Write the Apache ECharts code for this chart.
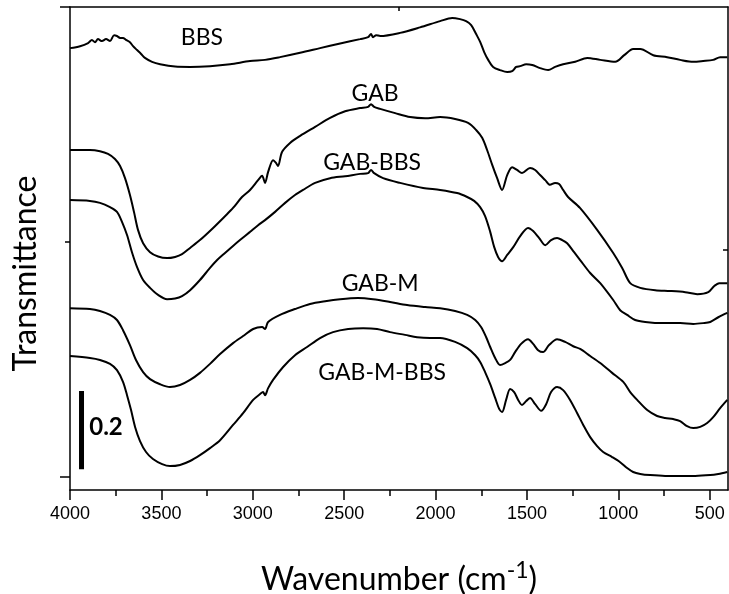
<!DOCTYPE html>
<html><head><meta charset="utf-8">
<script src="https://cdn.jsdelivr.net/npm/echarts@6/dist/echarts.min.js"></script>
<style>html,body{margin:0;padding:0;background:#fff}#c{width:729px;height:594px}</style>
</head><body><div id="c"></div>
<script>
// ---- data (wavenumber in cm^-1, transmittance in offset a.u.) ----
const bbsWn = [4000,3945,3901,3880,3863,3847,3825,3803,3781,3759,3743,3726,3710,3694,3672,3655,3633,3611,3590,3551,3507,3425,3343,3234,3124,3015,2933,2851,2741,2632,2522,2413,2369,2353,2342,2325,2303,2194,2085,1975,1909,1866,1833,1805,1778,1756,1734,1712,1685,1647,1608,1581,1559,1537,1504,1471,1428,1384,1346,1302,1236,1170,1099,1017,968,919,880,809,733,662,590,536,481,443,404];
const bbsT  = [1.095,1.100,1.108,1.116,1.110,1.118,1.113,1.118,1.113,1.128,1.126,1.121,1.121,1.116,1.110,1.100,1.090,1.080,1.070,1.060,1.054,1.048,1.047,1.049,1.054,1.062,1.065,1.072,1.083,1.095,1.107,1.118,1.123,1.131,1.123,1.128,1.126,1.134,1.148,1.164,1.172,1.169,1.164,1.154,1.131,1.111,1.085,1.065,1.047,1.039,1.034,1.036,1.047,1.049,1.054,1.052,1.044,1.039,1.047,1.054,1.060,1.070,1.065,1.060,1.077,1.093,1.093,1.077,1.072,1.065,1.060,1.062,1.065,1.072,1.072];

const gabWn = [4000,3891,3836,3792,3754,3726,3699,3672,3650,3628,3600,3562,3518,3469,3425,3387,3343,3289,3217,3152,3108,3059,3015,2971,2949,2933,2916,2889,2873,2862,2840,2796,2741,2659,2577,2495,2413,2369,2353,2336,2303,2221,2139,2057,1975,1893,1822,1778,1745,1718,1690,1663,1636,1608,1581,1554,1527,1483,1455,1428,1400,1374,1346,1324,1302,1275,1210,1116,1028,979,935,880,798,716,634,568,508,475,448,404];
const gabT  = [0.835,0.835,0.832,0.825,0.812,0.794,0.763,0.720,0.677,0.631,0.597,0.574,0.563,0.559,0.562,0.569,0.585,0.605,0.636,0.666,0.687,0.715,0.733,0.758,0.769,0.751,0.779,0.809,0.802,0.794,0.830,0.853,0.871,0.894,0.917,0.934,0.942,0.945,0.952,0.945,0.940,0.929,0.919,0.916,0.919,0.914,0.904,0.886,0.866,0.835,0.797,0.763,0.733,0.771,0.791,0.784,0.776,0.789,0.784,0.771,0.758,0.746,0.751,0.748,0.733,0.715,0.687,0.631,0.572,0.534,0.495,0.483,0.477,0.475,0.472,0.467,0.472,0.488,0.495,0.495];

const gabBbsWn = [4000,3891,3836,3781,3743,3715,3688,3661,3633,3600,3562,3518,3469,3425,3387,3343,3289,3234,3195,3152,3108,3070,3015,2971,2933,2878,2823,2769,2725,2659,2577,2495,2413,2369,2353,2336,2287,2194,2068,1975,1882,1827,1789,1756,1729,1701,1679,1658,1636,1608,1575,1537,1494,1466,1433,1400,1368,1335,1307,1280,1242,1209,1154,1099,1028,990,952,908,853,755,662,590,536,497,453,404];
const gabBbsT  = [0.707,0.705,0.700,0.689,0.677,0.651,0.618,0.574,0.536,0.503,0.483,0.465,0.454,0.456,0.462,0.477,0.503,0.534,0.554,0.572,0.590,0.605,0.626,0.643,0.656,0.677,0.700,0.720,0.733,0.751,0.763,0.768,0.774,0.776,0.784,0.776,0.763,0.751,0.738,0.733,0.725,0.715,0.705,0.689,0.666,0.626,0.587,0.562,0.551,0.567,0.587,0.615,0.636,0.628,0.610,0.592,0.605,0.610,0.605,0.597,0.574,0.554,0.521,0.495,0.452,0.426,0.414,0.401,0.396,0.393,0.393,0.391,0.393,0.396,0.408,0.419];

const gabMWn = [4000,3891,3836,3781,3743,3710,3672,3639,3600,3562,3507,3453,3398,3343,3289,3234,3179,3108,3053,2998,2949,2933,2916,2851,2769,2687,2604,2522,2424,2342,2249,2156,2057,1975,1893,1827,1783,1751,1723,1701,1674,1647,1619,1592,1565,1532,1494,1466,1439,1412,1379,1335,1291,1247,1209,1154,1099,1034,973,935,897,842,788,744,700,662,624,590,552,514,481,443,404];
const gabMT  = [0.431,0.429,0.424,0.414,0.401,0.375,0.337,0.299,0.268,0.250,0.237,0.230,0.235,0.248,0.266,0.289,0.314,0.342,0.360,0.378,0.383,0.378,0.396,0.414,0.429,0.442,0.449,0.454,0.457,0.454,0.447,0.439,0.434,0.431,0.424,0.414,0.401,0.383,0.357,0.332,0.304,0.286,0.291,0.299,0.319,0.340,0.352,0.340,0.324,0.319,0.337,0.352,0.345,0.334,0.327,0.309,0.291,0.266,0.243,0.217,0.197,0.171,0.156,0.151,0.148,0.143,0.130,0.125,0.128,0.138,0.153,0.176,0.197];

const gabMBbsWn = [4000,3891,3836,3781,3743,3710,3688,3666,3644,3617,3584,3546,3496,3453,3398,3343,3289,3234,3179,3108,3053,2998,2960,2944,2933,2916,2889,2834,2769,2703,2632,2561,2478,2396,2320,2249,2167,2101,2030,1975,1893,1827,1783,1756,1729,1701,1674,1652,1636,1614,1592,1570,1548,1527,1504,1483,1455,1422,1395,1368,1335,1302,1264,1225,1192,1154,1116,1083,1034,990,952,919,880,826,744,662,580,497,453,404];
const gabMBbsT  = [0.309,0.304,0.299,0.289,0.273,0.243,0.209,0.171,0.128,0.092,0.064,0.046,0.033,0.028,0.031,0.041,0.056,0.074,0.094,0.133,0.163,0.197,0.212,0.217,0.209,0.227,0.248,0.281,0.311,0.332,0.355,0.370,0.378,0.380,0.378,0.370,0.363,0.357,0.355,0.355,0.345,0.329,0.311,0.294,0.268,0.237,0.202,0.174,0.166,0.197,0.225,0.217,0.197,0.184,0.194,0.202,0.186,0.169,0.186,0.217,0.230,0.222,0.197,0.163,0.133,0.102,0.079,0.064,0.051,0.038,0.023,0.013,0.008,0.005,0.003,0.003,0.003,0.005,0.008,0.013];

// curve labels (anchored in data coordinates)
const labelNames = ['BBS','GAB','GAB-BBS','GAB-M','GAB-M-BBS'];
const labelWn    = [3278, 2331, 2347, 2303, 2292];
const labelT     = [1.121, 0.980, 0.804, 0.495, 0.266];

// scale bar (0.2 transmittance units)
const scaleBarWn = [3937, 3937];
const scaleBarT  = [0.02, 0.22];
const scaleText  = '0.2';
const scaleTextWn = 3803, scaleTextT = 0.128;

// ticks
const xMajorTicks = [4000,3500,3000,2500,2000,1500,1000,500];
const xMinorTicks = [3750,3250,2750,2250,1750,1250,750];
const yMajorTicks = [0, 1.2];
const yMinorTicks = [0.6];
const topTicks = [2200];
const rightTicks = [0.58];

const zip = (a, b) => a.map((v, i) => [v, b[i]]);

const chart = echarts.init(document.getElementById('c'), null, {renderer: 'canvas'});
const XMIN = 400, XMAX = 4000, YMIN = -0.033, YMAX = 1.2;
const lineCol = '#000';
const baseX = {type: 'value', min: XMIN, max: XMAX, inverse: true, splitLine: {show: false}};
const baseY = {type: 'value', min: YMIN, max: YMAX, splitLine: {show: false}};

const mkLine = (name, wn, t) => ({
  name, type: 'line', data: zip(wn, t), showSymbol: false, smooth: 0.3,
  lineStyle: {color: lineCol, width: 2}, itemStyle: {color: lineCol}, z: 3
});

chart.setOption({
  animation: false,
  backgroundColor: '#fff',
  grid: {left: 70, right: 1, top: 7, bottom: 104, containLabel: false, outerBoundsMode: 'none'},
  xAxis: [
    Object.assign({}, baseX, {
      position: 'bottom',
      axisLine: {show: true, onZero: false, lineStyle: {color: lineCol, width: 1.5}},
      axisTick: {show: true, inside: false, length: 10, customValues: xMajorTicks, lineStyle: {color: lineCol, width: 1.5}},
      axisLabel: {show: true, customValues: xMajorTicks, margin: 15, color: '#000', fontFamily: 'Liberation Sans', fontSize: 18, formatter: v => String(v)},
      name: 'Wavenumber (cm{sup|-1})', nameLocation: 'middle', nameGap: 69,
      nameTextStyle: {color: '#000', fontFamily: 'Lato', fontSize: 32,
        rich: {sup: {fontFamily: 'Lato', fontSize: 23, verticalAlign: 'top', padding: [0, 0, 18, 0], color: '#000'}}}
    }),
    Object.assign({}, baseX, {
      position: 'bottom',
      axisLine: {show: false, onZero: false},
      axisTick: {show: true, inside: false, length: 6, customValues: xMinorTicks, lineStyle: {color: lineCol, width: 1.5}},
      axisLabel: {show: false}
    }),
    Object.assign({}, baseX, {
      position: 'top',
      axisLine: {show: true, onZero: false, lineStyle: {color: lineCol, width: 1.5}},
      axisTick: {show: true, inside: true, length: 4, customValues: topTicks, lineStyle: {color: lineCol, width: 1.5}},
      axisLabel: {show: false}
    })
  ],
  yAxis: [
    Object.assign({}, baseY, {
      position: 'left',
      axisLine: {show: true, onZero: false, lineStyle: {color: lineCol, width: 1.5}},
      axisTick: {show: true, inside: false, length: 10, customValues: yMajorTicks, lineStyle: {color: lineCol, width: 1.5}},
      axisLabel: {show: false},
      name: 'Transmittance', nameLocation: 'middle', nameGap: 28, nameRotate: 90,
      nameTextStyle: {color: '#000', fontFamily: 'Lato', fontSize: 32, padding: [0, 50, 0, 0]}
    }),
    Object.assign({}, baseY, {
      position: 'left',
      axisLine: {show: false, onZero: false},
      axisTick: {show: true, inside: false, length: 5, customValues: yMinorTicks, lineStyle: {color: lineCol, width: 1.5}},
      axisLabel: {show: false}
    }),
    Object.assign({}, baseY, {
      position: 'right',
      axisLine: {show: true, onZero: false, lineStyle: {color: lineCol, width: 1.5}},
      axisTick: {show: true, inside: true, length: 5, customValues: rightTicks, lineStyle: {color: lineCol, width: 1.5}},
      axisLabel: {show: false}
    })
  ],
  series: [
    mkLine('BBS', bbsWn, bbsT),
    mkLine('GAB', gabWn, gabT),
    mkLine('GAB-BBS', gabBbsWn, gabBbsT),
    mkLine('GAB-M', gabMWn, gabMT),
    mkLine('GAB-M-BBS', gabMBbsWn, gabMBbsT),
    {
      name: 'scale', type: 'line', data: zip(scaleBarWn, scaleBarT), showSymbol: false,
      lineStyle: {color: lineCol, width: 5, cap: 'butt'}, z: 4
    },
    {
      name: 'labels', type: 'scatter', symbolSize: 0, z: 5,
      itemStyle: {color: '#000', opacity: 1},
      data: labelNames.map((n, i) => ({value: [labelWn[i], labelT[i]], name: n})),
      label: {show: true, position: 'inside', formatter: p => p.name, color: '#000', opacity: 1, fontFamily: 'Lato', fontSize: 23}
    },
    {
      name: 'scaleLabel', type: 'scatter', symbolSize: 0, z: 5,
      itemStyle: {color: '#000', opacity: 1},
      data: [{value: [scaleTextWn, scaleTextT], name: scaleText}],
      label: {show: true, position: 'inside', formatter: p => p.name, color: '#000', opacity: 1, fontFamily: 'Lato', fontWeight: 'bold', fontSize: 24}
    }
  ]
});
</script></body></html>
